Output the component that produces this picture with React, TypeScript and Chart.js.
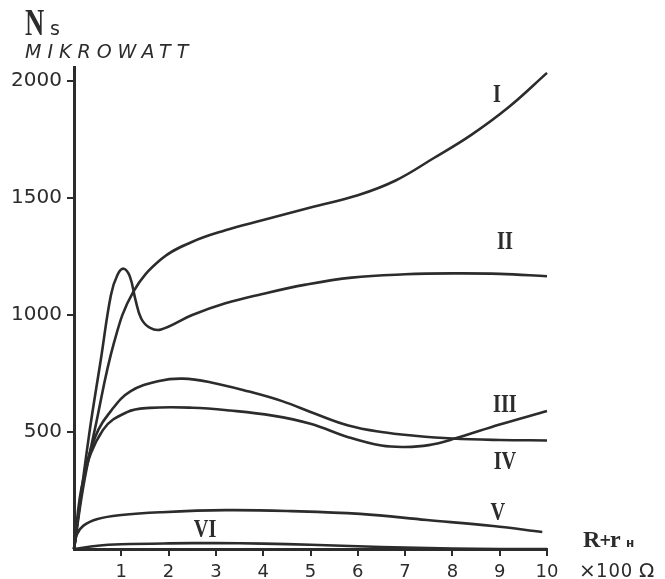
import { useEffect, useRef } from "react";
import { Chart, registerables } from "chart.js";
Chart.register(...registerables);

// Curve I
const xI = [0, 0.2, 0.45, 0.85, 1.25, 1.84, 2.48, 3.2, 4.0, 5.0, 6.0, 6.8, 7.6, 8.4, 9.2, 10];
const yI = [0, 270, 520, 885, 1098, 1238, 1311, 1362, 1406, 1460, 1512, 1575, 1670, 1770, 1890, 2035];
// Curve II
const xII = [0, 0.32, 0.57, 0.78, 0.92, 1.05, 1.18, 1.3, 1.42, 1.6, 1.84, 2.5, 3.2, 3.96, 4.9, 5.87, 7, 8, 9, 10];
const yII = [0, 489, 813, 1085, 1172, 1198, 1165, 1065, 985, 946, 938, 1000, 1050, 1089, 1130, 1160, 1174, 1178, 1176, 1166];
// Curve III (plateau ~600, rising at the end)
const xIII = [0, 0.2, 0.61, 1.12, 1.6, 2.5, 3.3, 4.2, 5.0, 5.8, 6.5, 7.0, 7.5, 8.05, 9.0, 10];
const yIII = [0, 300, 508, 585, 603, 604, 592, 570, 535, 478, 442, 436, 444, 472, 532, 590];
// Curve IV (peak ~730, flat at the end)
const xIV = [0, 0.2, 0.45, 0.8, 1.2, 1.8, 2.3, 2.9, 3.7, 4.4, 5.1, 5.8, 6.5, 7.2, 8.0, 9, 10];
const yIV = [0, 290, 480, 595, 675, 718, 728, 712, 673, 632, 578, 528, 500, 484, 472, 466, 464];
// Curve V
const xV = [0, 0.06, 0.2, 0.5, 1.0, 1.82, 3.2, 4.6, 6.05, 7.46, 8.86, 9.9];
const yV = [0, 62, 100, 128, 145, 157, 166, 162, 150, 124, 98, 73];
// Curve VI
const xVI = [0, 0.5, 1, 2, 3, 4, 5, 6, 7, 8, 9, 10];
const yVI = [0, 14, 20, 24, 25, 23, 18, 12, 6, 2, 0, 0];

const seriesNames = ["I", "II", "III", "IV", "V", "VI"];
const yTickValues = [500, 1000, 1500, 2000];
const xTickValues = [1, 2, 3, 4, 5, 6, 7, 8, 9, 10];

const pts = (xs: number[], ys: number[]) => xs.map((x, i) => ({ x, y: ys[i] }));

export default function App() {
  const ref = useRef<HTMLCanvasElement>(null);

  useEffect(() => {
    if (!ref.current) return;
    const ink = "#2c2c2c";

    const annotate = {
      id: "annotate",
      afterDraw(chart: any) {
        const ctx = chart.ctx as CanvasRenderingContext2D;
        const sx = chart.scales.x;
        const sy = chart.scales.y;
        const txt = (
          s: string, x: number, y: number, font: string,
          scaleX = 1, align: CanvasTextAlign = "left",
          baseline: CanvasTextBaseline = "alphabetic", spacing = "0px"
        ) => {
          ctx.save();
          ctx.fillStyle = ink;
          ctx.font = font;
          ctx.textAlign = align;
          ctx.textBaseline = baseline;
          (ctx as any).letterSpacing = spacing;
          ctx.translate(x, y);
          ctx.scale(scaleX, 1);
          ctx.fillText(s, 0, 0);
          ctx.restore();
        };
        // Roman curve labels anchored in data space
        const anchors: [number, number][] = [
          [8.94, 1940], [9.11, 1312], [9.11, 615], [9.11, 372], [8.96, 154], [2.77, 81],
        ];
        seriesNames.forEach((n, i) => {
          const [ax, ay] = anchors[i];
          txt(n, sx.getPixelForValue(ax), sy.getPixelForValue(ay),
            "bold 26px 'Liberation Serif'", 0.78, "center", "middle");
        });
        // Y-axis title
        txt("N", 25, 35, "bold 37px 'Liberation Serif'", 0.72);
        txt("s", 50, 35, "19px 'DejaVu Sans'");
        txt("MIKROWATT", 25, 58, "italic 19px 'DejaVu Sans'", 1, "left", "alphabetic", "6px");
        // X-axis title
        txt("R", 583, 547, "bold 24px 'Liberation Serif'");
        txt("+", 599, 545, "bold 15px 'DejaVu Sans'");
        txt("r", 610, 547, "bold 24px 'Liberation Serif'");
        txt("н", 626, 547, "bold 12px 'DejaVu Sans'");
        txt("×", 579, 577, "20px 'DejaVu Sans'");
        txt("100", 596, 577, "19px 'DejaVu Sans'", 0.95, "left", "alphabetic", "1px");
        txt("Ω", 639, 577, "20px 'DejaVu Sans'");
      },
    };

    const all: [number[], number[]][] = [
      [xI, yI], [xII, yII], [xIII, yIII], [xIV, yIV], [xV, yV], [xVI, yVI],
    ];

    const chart = new Chart(ref.current, {
      type: "line",
      data: {
        datasets: all.map(([xs, ys], i) => ({
          label: seriesNames[i],
          data: pts(xs, ys),
          borderColor: ink,
          borderWidth: 2.6,
          pointRadius: 0,
          fill: false,
          tension: 0.4,
          clip: false as any,
        })),
      },
      options: {
        animation: false,
        responsive: false,
        devicePixelRatio: 1,
        layout: { padding: { left: 0, right: 118, top: 67, bottom: 0 } },
        plugins: { legend: { display: false }, tooltip: { enabled: false } },
        scales: {
          x: {
            type: "linear",
            min: 0,
            max: 10,
            afterBuildTicks: (s: any) => {
              s.ticks = xTickValues.map((v) => ({ value: v }));
            },
            afterFit: (s: any) => {
              s.height = 30;
            },
            ticks: {
              color: ink,
              font: { family: "'DejaVu Sans'", size: 18 },
              padding: 6,
              maxRotation: 0,
              autoSkip: false,
              callback: (v: any) => String(v),
            },
            grid: { drawOnChartArea: false, drawTicks: true, tickLength: 7, color: ink, lineWidth: 2 },
            border: { display: true, color: ink, width: 3 },
          },
          y: {
            type: "linear",
            min: 0,
            max: 2060,
            afterBuildTicks: (s: any) => {
              s.ticks = yTickValues.map((v) => ({ value: v }));
            },
            afterFit: (s: any) => {
              s.width = 74;
            },
            ticks: {
              color: ink,
              font: { family: "'DejaVu Sans'", size: 20 },
              padding: 5,
              autoSkip: false,
              callback: (v: any) => String(v),
            },
            grid: { drawOnChartArea: false, drawTicks: true, tickLength: 7, color: ink, lineWidth: 2 },
            border: { display: true, color: ink, width: 3 },
          },
        },
      },
      plugins: [annotate],
    } as any);

    return () => chart.destroy();
  }, []);

  return (
    <div style={{ position: "fixed", left: 0, top: 0, width: 665, height: 579, background: "#fff" }}>
      <canvas ref={ref} width={665} height={579} style={{ display: "block", width: 665, height: 579 }} />
    </div>
  );
}
